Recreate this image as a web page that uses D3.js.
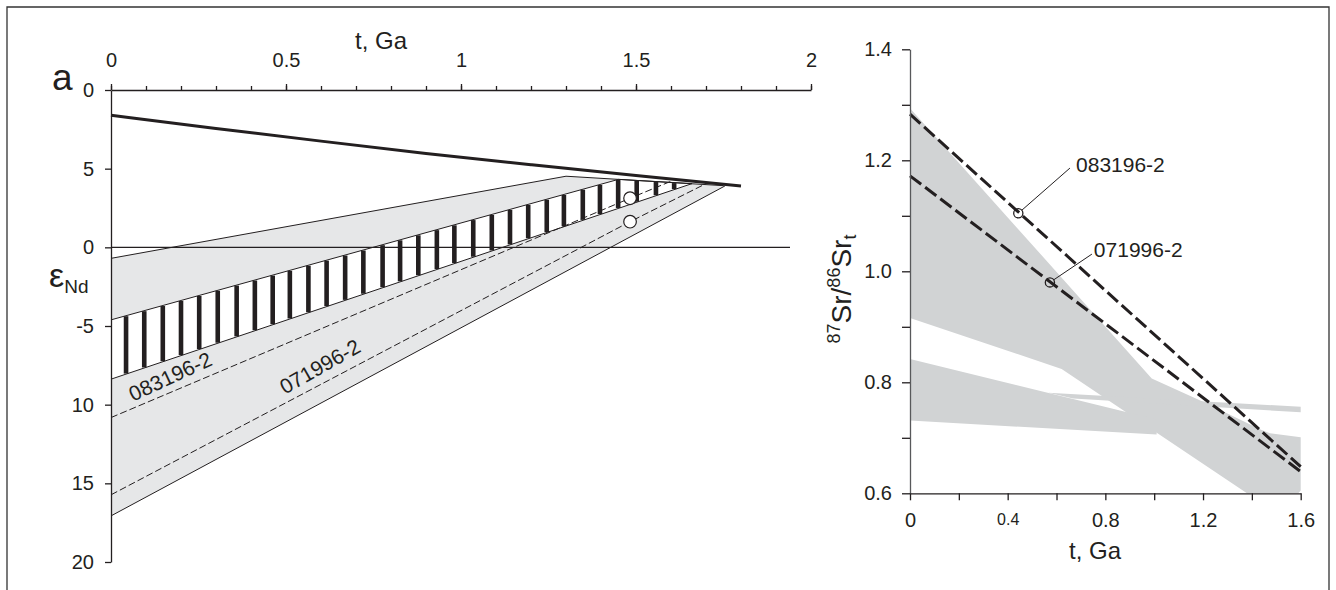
<!DOCTYPE html>
<html><head><meta charset="utf-8">
<script src="https://cdn.jsdelivr.net/npm/d3@7"></script>
<style>
body{margin:0;background:#fff}
svg{display:block}
text{font-family:"Liberation Sans",Arial,sans-serif;fill:#231f20}
</style>
</head><body>
<svg id="c" width="1336" height="590"></svg>
<script>
// ---------- Panel a: epsilon Nd vs t ----------
const ndTickValues = [10, 5, 0, -5, -10, -15, -20];
const ndTickLabels = ["0", "5", "0", "-5", "10", "15", "20"];
const tTopMajor = [0, 0.5, 1, 1.5, 2];
const tTopLabels = ["0", "0.5", "1", "1.5", "2"];
const tTopMinor = [0,0.1,0.2,0.3,0.4,0.5,0.6,0.7,0.8,0.9,1,1.1,1.2,1.3,1.4,1.5,1.6,1.7,1.8,1.9,2];
const dmCurve = [[0,8.4],[0.3,7.55],[0.6,6.75],[0.9,5.95],[1.2,5.25],[1.5,4.55],[1.8,3.9]];
const grayUpper = [[0,-0.7],[1.3,4.52],[1.75,3.92]];
const grayLower = [[0,-17.07],[1.754,3.9]];
const hatchUpper = [[0,-4.61],[1.45,4.32],[1.66,4.05]];
const hatchLower = [[0,-8.38],[1.66,4.05]];
const line083 = [[0,-10.82],[1.483,3.12],[1.6,4.2]];
const line071 = [[0,-15.73],[1.483,1.63],[1.7,4.05]];
const ndPoints = [[1.483,3.12],[1.483,1.63]];
const zeroLine = [[0,0],[1.94,0]];
const hatchBarT = [0.043,0.095,0.148,0.200,0.252,0.305,0.359,0.411,0.462,0.511,0.564,0.616,0.669,0.721,0.776,0.826,0.878,0.931,0.981,1.035,1.088,1.140,1.192,1.245,1.294,1.348,1.397,1.449,1.502,1.557,1.609];
const ndLabels = [{text:"083196-2", line:"083", t:0.063, off:0.42},{text:"071996-2", line:"071", t:0.497, off:0.54}];

// ---------- Panel b: 87Sr/86Sr vs t ----------
const srTickValues = [0.6,0.7,0.8,0.9,1.0,1.1,1.2,1.3,1.4];
const srTickLabeled = [0.6,0.8,1.0,1.2,1.4];
const tBotTicks = [0,0.2,0.4,0.6,0.8,1.0,1.2,1.4,1.6];
const tBotLabeled = [0,0.4,0.8,1.2,1.6];
const srBandA = [[0,1.294],[0.99,0.807],[1.2,0.765],[1.44,0.714],[1.474,0.708],[1.6,0.701],[1.6,0.605],[1.59,0.6],[1.38,0.6],[0.621,0.824],[0,0.916]];
const srBandB = [[0,0.842],[0.86,0.749],[1.01,0.733],[1.01,0.706],[0,0.731]];
const srThin = [[0.566,0.781],[1.6,0.756],[1.6,0.746],[0.668,0.771]];
const sr083 = [[0,1.283],[1.6,0.648]];
const sr071 = [[0,1.172],[1.6,0.639]];
const srPoints = [
  {t:0.4435, v:1.1045, label:"083196-2", lt:0.655, lv:1.186, tx:0.68, tv:1.179},
  {t:0.573, v:0.980, label:"071996-2", lt:0.745, lv:1.031, tx:0.753, tv:1.026}
];

const svg = d3.select("#c");
const INK = "#231f20";

// frame
svg.append("path").attr("d","M7,590V7H1329V590").attr("fill","none").attr("stroke","#333").attr("stroke-width",1.3);

function interp(poly, t){
  for(let i=0;i<poly.length-1;i++){
    const [t0,v0]=poly[i],[t1,v1]=poly[i+1];
    if(t>=t0 && t<=t1) return v0+(v1-v0)*(t-t0)/(t1-t0);
  }
  return poly[poly.length-1][1];
}

// ===== Panel a =====
const xL = d3.scaleLinear().domain([0,2]).range([111,811]);
const yL = d3.scaleLinear().domain([10,-20]).range([90,562]);
const lineL = d3.line().x(d=>xL(d[0])).y(d=>yL(d[1]));
const gA = svg.append("g");

gA.append("path").attr("d", lineL(grayUpper.concat(grayLower.slice().reverse())) + "Z")
  .attr("fill","#e6e7e8").attr("stroke","none");
gA.append("path").attr("d", lineL(hatchUpper.concat(hatchLower.slice().reverse())) + "Z")
  .attr("fill","#fff").attr("stroke","none");
gA.selectAll("rect.bar").data(hatchBarT).join("rect").attr("class","bar")
  .attr("x", t=>xL(t)-2.3).attr("width",4.6)
  .attr("y", t=>yL(interp(hatchUpper,t))+0.5)
  .attr("height", t=>Math.max(0, yL(interp(hatchLower,t)) - yL(interp(hatchUpper,t)) - 1))
  .attr("fill", INK);
[grayUpper, grayLower, hatchUpper, hatchLower].forEach(p=>{
  gA.append("path").attr("d", lineL(p)).attr("fill","none").attr("stroke",INK).attr("stroke-width",1);
});
gA.append("path").attr("d", lineL(zeroLine)).attr("fill","none").attr("stroke",INK).attr("stroke-width",1.3);
[line083, line071].forEach(p=>{
  gA.append("path").attr("d", lineL(p)).attr("fill","none").attr("stroke",INK).attr("stroke-width",1)
    .attr("stroke-dasharray","7,3");
});
gA.append("path").attr("d", d3.line().curve(d3.curveBasis).x(d=>xL(d[0])).y(d=>yL(d[1]))(dmCurve))
  .attr("fill","none").attr("stroke",INK).attr("stroke-width",3);
gA.selectAll("circle").data(ndPoints).join("circle")
  .attr("cx",d=>xL(d[0])).attr("cy",d=>yL(d[1])).attr("r",6.3)
  .attr("fill","#fff").attr("stroke",INK).attr("stroke-width",1.2);

const lineMap = {"083": line083, "071": line071};
ndLabels.forEach(l=>{
  const p = lineMap[l.line];
  const t2 = l.t + 0.3;
  const ang = Math.atan2(yL(interp(p,t2))-yL(interp(p,l.t)), xL(t2)-xL(l.t))*180/Math.PI - 1.8;
  gA.append("text").attr("transform",`translate(${xL(l.t)},${yL(interp(p,l.t)+l.off)}) rotate(${ang})`)
    .attr("font-size",21).text(l.text);
});

// axes panel a
const topMinor = gA.append("g").attr("transform",`translate(0,${yL(10)})`)
  .call(d3.axisTop(xL).tickValues(tTopMinor).tickSize(4).tickSizeOuter(0).tickFormat(""));
const topMajor = gA.append("g").attr("transform",`translate(0,${yL(10)})`)
  .call(d3.axisTop(xL).tickValues(tTopMajor).tickSize(6).tickPadding(17)
    .tickFormat((d,i)=>tTopLabels[i]));
topMajor.select(".domain").remove();
const leftAx = gA.append("g").attr("transform",`translate(${xL(0)},0)`)
  .call(d3.axisLeft(yL).tickValues(ndTickValues).tickSize(6).tickSizeOuter(0).tickPadding(11)
    .tickFormat((d,i)=>ndTickLabels[i]));
[topMinor, topMajor, leftAx].forEach(a=>{
  a.selectAll("path,line").attr("stroke",INK).attr("stroke-width",1.3);
  a.selectAll("text").attr("font-size",20).attr("fill",INK).attr("font-family",'"Liberation Sans",Arial,sans-serif');
});

gA.append("text").attr("x",381).attr("y",49).attr("text-anchor","middle").attr("font-size",24).text("t, Ga");
gA.append("text").attr("x",52).attr("y",90).attr("font-size",37).text("a");
const eps = gA.append("text").attr("x",49).attr("y",287);
eps.append("tspan").attr("font-size",34).text("ε");
eps.append("tspan").attr("font-size",19).attr("dy",6).text("Nd");

// ===== Panel b =====
const xR = d3.scaleLinear().domain([0,1.6]).range([910,1300.7]);
const yR = d3.scaleLinear().domain([0.6,1.4]).range([493.3,49.3]);
const lineR = d3.line().x(d=>xR(d[0])).y(d=>yR(d[1]));
const gB = svg.append("g");
[srBandA, srBandB, srThin].forEach(p=>{
  gB.append("path").attr("d", lineR(p)+"Z").attr("fill","#d1d3d4").attr("stroke","none");
});
[sr083, sr071].forEach(p=>{
  gB.append("path").attr("d", lineR(p)).attr("fill","none").attr("stroke",INK).attr("stroke-width",3)
    .attr("stroke-dasharray","14,5");
});
srPoints.forEach(p=>{
  const cx = xR(p.t), cy = yR(p.v), ex = xR(p.lt), ey = yR(p.lv);
  const ang = Math.atan2(ey-cy, ex-cx);
  gB.append("line").attr("x1",cx+4.6*Math.cos(ang)).attr("y1",cy+4.6*Math.sin(ang))
    .attr("x2",ex).attr("y2",ey).attr("stroke",INK).attr("stroke-width",1);
  gB.append("circle").attr("cx",cx).attr("cy",cy).attr("r",4.6)
    .attr("fill","none").attr("stroke",INK).attr("stroke-width",1.3);
  gB.append("text").attr("x",xR(p.tx)).attr("y",yR(p.tv)).attr("font-size",21).text(p.label);
});

const yAxR = gB.append("g").attr("transform",`translate(${xR(0)},0)`)
  .call(d3.axisLeft(yR).tickValues(srTickValues).tickSize(8).tickSizeOuter(0).tickPadding(10)
    .tickFormat(d=>srTickLabeled.some(v=>Math.abs(v-d)<1e-9) ? d3.format(".1f")(d) : ""));
const xAxR = gB.append("g").attr("transform",`translate(0,${yR(0.6)})`)
  .call(d3.axisBottom(xR).tickValues(tBotTicks).tickSize(7).tickSizeOuter(0).tickPadding(13)
    .tickFormat(d=>tBotLabeled.some(v=>Math.abs(v-d)<1e-9) ? (d===0?"0":d3.format(".1f")(d)) : ""));
[yAxR, xAxR].forEach(a=>{
  a.selectAll("path,line").attr("stroke",INK).attr("stroke-width",1.3);
  a.selectAll("text").attr("font-size",20).attr("fill",INK).attr("font-family",'"Liberation Sans",Arial,sans-serif');
});
yAxR.select(".domain").attr("stroke","#58595b");
xAxR.selectAll(".tick text").filter(d=>Math.abs(d-0.4)<1e-9).attr("font-size",16);

gB.append("text").attr("x",1095).attr("y",559).attr("text-anchor","middle").attr("font-size",24).text("t, Ga");
const yl = gB.append("text").attr("transform","translate(851,289) rotate(-90)").attr("text-anchor","middle");
yl.append("tspan").attr("font-size",18).attr("dy",-11).text("87");
yl.append("tspan").attr("font-size",28).attr("dy",11).text("Sr/");
yl.append("tspan").attr("font-size",18).attr("dy",-11).text("86");
yl.append("tspan").attr("font-size",28).attr("dy",11).text("Sr");
yl.append("tspan").attr("font-size",18).attr("dy",5).text("t");
</script>
</body></html>
